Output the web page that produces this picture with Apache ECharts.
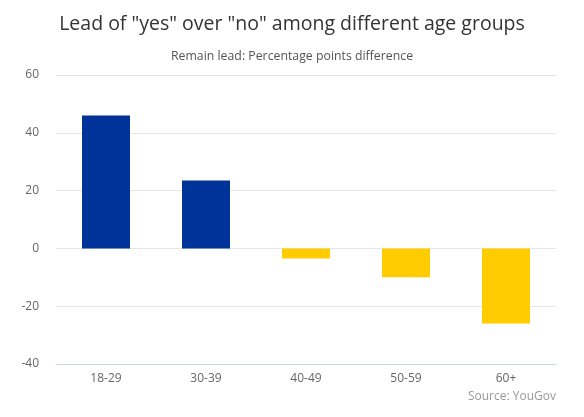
<!DOCTYPE html>
<html>
<head>
<meta charset="utf-8">
<script src="https://cdn.jsdelivr.net/npm/echarts@6/dist/echarts.min.js"></script>
<style>
html,body{margin:0;padding:0;background:#fff;}
#chart{width:584px;height:417px;}
</style>
</head>
<body>
<div id="chart"></div>
<script>
var ageGroups = ['18-29', '30-39', '40-49', '50-59', '60+'];
var remainLead = [46, 23.5, -3.5, -10, -26];
var yTicks = {min: -40, max: 60, interval: 20};

var chart = echarts.init(document.getElementById('chart'));
var option = {
    backgroundColor: '#fff',
    animation: false,
    textStyle: {fontFamily: 'Open Sans'},
    title: [
        {
            text: 'Lead of "yes" over "no" among different age groups',
            left: 'center',
            top: 9,
            textStyle: {fontSize: 19.5, fontWeight: 'normal', color: '#333', fontFamily: 'Open Sans'}
        },
        {
            text: 'Remain lead: Percentage points difference',
            left: 'center',
            top: 45,
            textStyle: {fontSize: 12.3, fontWeight: 'normal', color: '#555', fontFamily: 'Open Sans'}
        }
    ],
    grid: {left: 56, right: 28, top: 75, bottom: 53},
    xAxis: {
        type: 'category',
        data: ageGroups,
        axisLine: {onZero: false, lineStyle: {color: '#ccd6eb'}},
        axisTick: {length: 8, lineStyle: {color: '#ccd6eb'}},
        axisLabel: {color: '#666', fontSize: 12, margin: 9}
    },
    yAxis: {
        type: 'value',
        min: yTicks.min,
        max: yTicks.max,
        interval: yTicks.interval,
        axisLine: {show: false},
        axisTick: {show: false},
        axisLabel: {color: '#666', fontSize: 12, margin: 17},
        splitLine: {lineStyle: {color: '#e6e6e6'}}
    },
    graphic: [{
        type: 'text',
        right: 28,
        bottom: 14,
        style: {text: 'Source: YouGov', fill: '#999', fontSize: 12, fontFamily: 'Open Sans'}
    }],
    series: [{
        type: 'bar',
        data: remainLead,
        barWidth: 48,
        itemStyle: {
            color: function(p){ return p.value >= 0 ? '#003399' : '#ffcc00'; }
        }
    }]
};
chart.setOption(option);
</script>
</body>
</html>
